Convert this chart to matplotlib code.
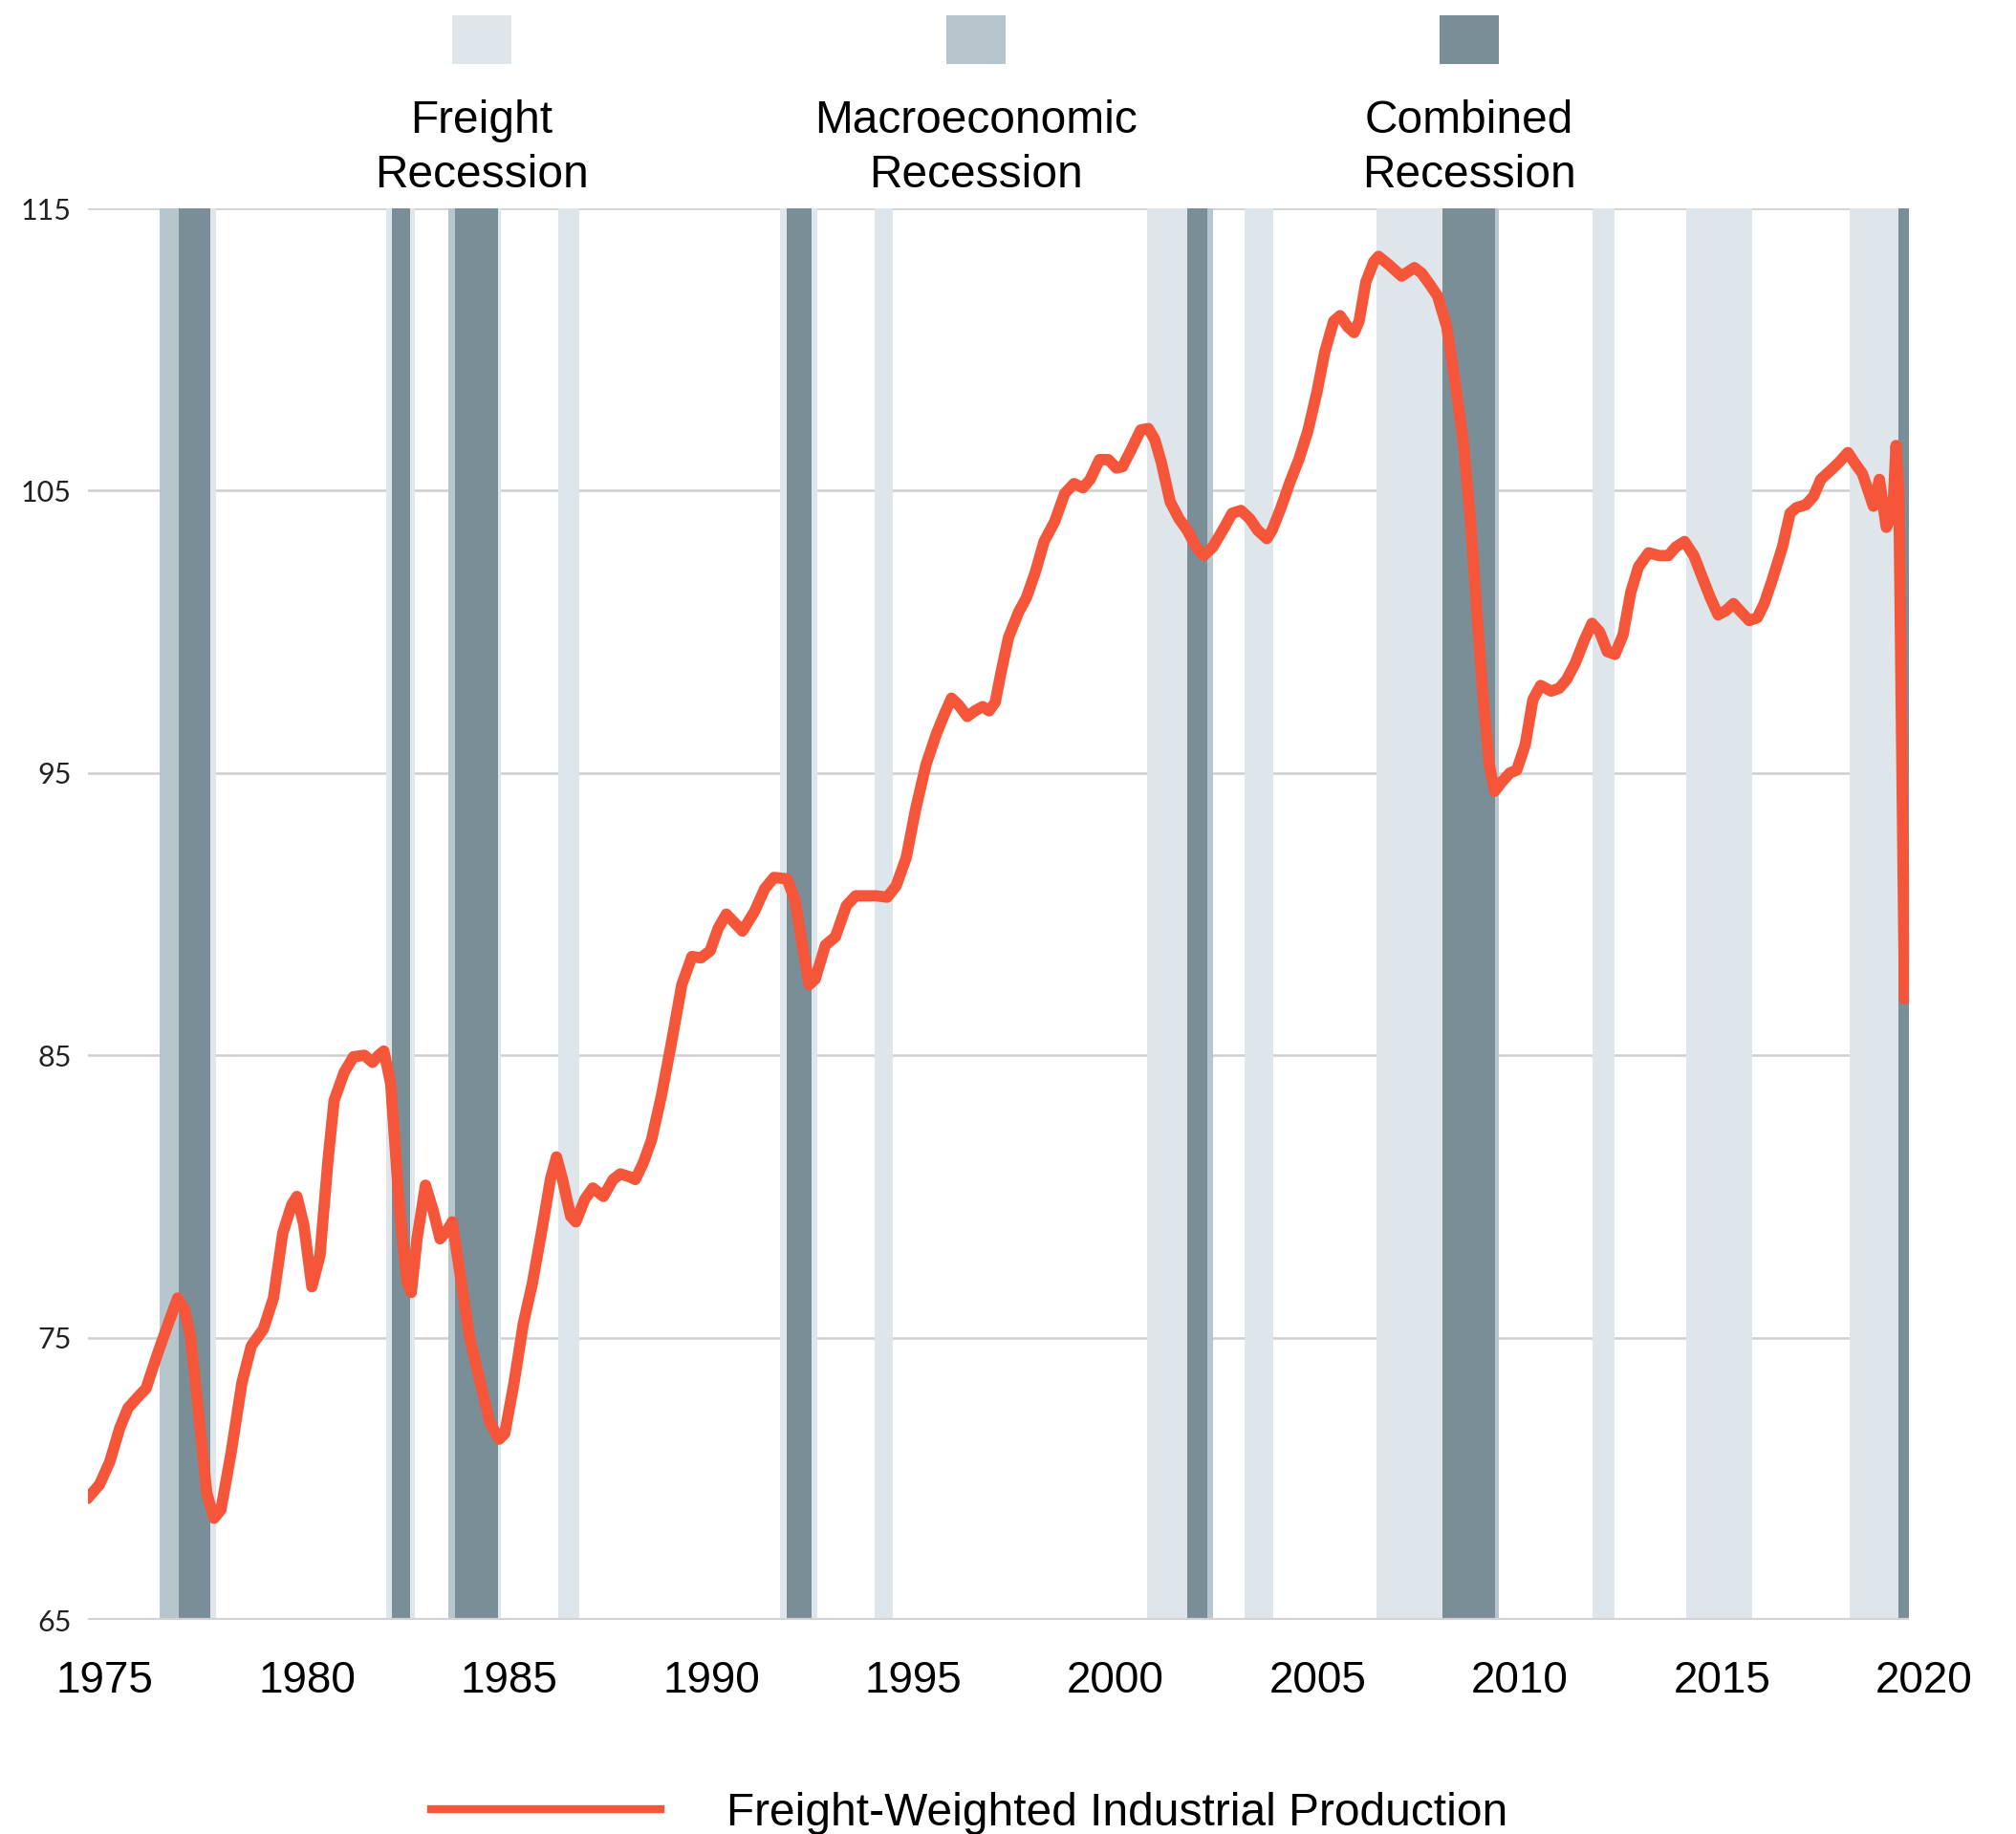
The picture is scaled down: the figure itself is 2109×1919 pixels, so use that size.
import matplotlib
matplotlib.use("Agg")
import matplotlib.pyplot as plt
import matplotlib.transforms as mtransforms
from matplotlib.patches import Rectangle
from matplotlib.lines import Line2D

# ---------------- data ----------------
years = [
    1975.00, 1975.30, 1975.55, 1975.80, 1976.00, 1976.25, 1976.45, 1976.75, 1977.00, 1977.23,
    1977.40, 1977.55, 1977.75, 1977.95, 1978.13, 1978.30, 1978.55, 1978.82, 1979.05, 1979.35,
    1979.60, 1979.83, 1980.05, 1980.18, 1980.35, 1980.55, 1980.75, 1980.95, 1981.10, 1981.35,
    1981.58, 1981.85, 1982.05, 1982.20, 1982.33, 1982.50, 1982.72, 1982.90, 1983.01, 1983.15,
    1983.36, 1983.55, 1983.72, 1983.90, 1984.02, 1984.20, 1984.45, 1984.70, 1984.95, 1985.18,
    1985.32, 1985.55, 1985.78, 1986.00, 1986.25, 1986.45, 1986.60, 1986.75, 1986.95, 1987.08,
    1987.30, 1987.50, 1987.76, 1988.00, 1988.18, 1988.40, 1988.55, 1988.75, 1988.95, 1989.20,
    1989.45, 1989.70, 1989.95, 1990.17, 1990.40, 1990.60, 1990.80, 1991.00, 1991.20, 1991.50,
    1991.75, 1991.98, 1992.30, 1992.50, 1992.68, 1992.85, 1993.00, 1993.25, 1993.50, 1993.77,
    1994.00, 1994.50, 1994.78, 1995.00, 1995.25, 1995.48, 1995.74, 1996.00, 1996.20, 1996.37,
    1996.55, 1996.76, 1996.95, 1997.14, 1997.30, 1997.45, 1997.60, 1997.78, 1998.03, 1998.22,
    1998.44, 1998.66, 1998.92, 1999.17, 1999.40, 1999.62, 1999.80, 2000.03, 2000.25, 2000.45,
    2000.60, 2000.83, 2001.05, 2001.24, 2001.40, 2001.56, 2001.78, 2002.00, 2002.20, 2002.42,
    2002.61, 2002.83, 2003.12, 2003.31, 2003.53, 2003.75, 2003.94, 2004.17, 2004.30, 2004.52,
    2004.74, 2004.96, 2005.18, 2005.41, 2005.60, 2005.82, 2005.98, 2006.17, 2006.33, 2006.45,
    2006.62, 2006.81, 2006.93, 2007.19, 2007.50, 2007.82, 2008.00, 2008.20, 2008.39, 2008.62,
    2008.84, 2009.03, 2009.19, 2009.35, 2009.51, 2009.67, 2009.80, 2009.99, 2010.18, 2010.35,
    2010.56, 2010.75, 2010.94, 2011.20, 2011.40, 2011.58, 2011.80, 2012.02, 2012.21, 2012.40,
    2012.59, 2012.78, 2012.98, 2013.17, 2013.36, 2013.61, 2013.87, 2014.10, 2014.28, 2014.50,
    2014.73, 2014.92, 2015.14, 2015.33, 2015.52, 2015.71, 2015.90, 2016.10, 2016.30, 2016.47,
    2016.66, 2016.92, 2017.11, 2017.27, 2017.50, 2017.69, 2017.87, 2018.10, 2018.32, 2018.54,
    2018.70, 2018.90, 2019.17, 2019.32, 2019.49, 2019.65, 2019.73, 2019.80, 2019.94, 2020.02,
]
values = [
    69.3, 69.8, 70.6, 71.8, 72.5, 72.9, 73.2, 74.5, 75.5, 76.4,
    76.0, 75.0, 72.3, 69.5, 68.6, 68.9, 70.9, 73.4, 74.7, 75.3,
    76.4, 78.7, 79.7, 80.0, 79.0, 76.8, 77.9, 81.3, 83.4, 84.4,
    84.95, 85.0, 84.75, 85.0, 85.15, 84.0, 79.5, 77.0, 76.6, 78.5,
    80.4, 79.5, 78.5, 78.8, 79.1, 77.4, 75.0, 73.5, 72.0, 71.4,
    71.6, 73.4, 75.5, 76.9, 78.9, 80.6, 81.4, 80.6, 79.3, 79.1,
    79.9, 80.3, 80.0, 80.6, 80.8, 80.7, 80.6, 81.2, 82.0, 83.6,
    85.5, 87.5, 88.5, 88.45, 88.7, 89.5, 90.0, 89.7, 89.4, 90.1,
    90.9, 91.3, 91.25, 90.5, 88.9, 87.5, 87.7, 88.9, 89.2, 90.3,
    90.65, 90.65, 90.6, 91.0, 92.0, 93.7, 95.3, 96.4, 97.1, 97.65,
    97.4, 97.0, 97.2, 97.35, 97.2, 97.5, 98.6, 99.8, 100.7, 101.2,
    102.1, 103.2, 103.9, 104.9, 105.25, 105.1, 105.4, 106.1, 106.1, 105.8,
    105.85, 106.5, 107.15, 107.2, 106.8, 106.0, 104.6, 104.0, 103.6, 103.0,
    102.7, 103.0, 103.7, 104.2, 104.3, 104.0, 103.6, 103.3, 103.6, 104.4,
    105.3, 106.1, 107.1, 108.5, 109.9, 111.0, 111.2, 110.8, 110.6, 111.0,
    112.4, 113.1, 113.3, 113.0, 112.6, 112.9, 112.7, 112.3, 111.9, 110.8,
    108.7, 106.7, 104.2, 101.0, 97.8, 95.3, 94.35, 94.7, 95.0, 95.1,
    96.0, 97.6, 98.1, 97.9, 98.0, 98.3, 98.9, 99.7, 100.3, 100.0,
    99.3, 99.2, 99.9, 101.4, 102.3, 102.8, 102.7, 102.7, 103.0, 103.2,
    102.7, 102.0, 101.2, 100.6, 100.75, 101.0, 100.7, 100.4, 100.5, 101.0,
    101.8, 103.0, 104.2, 104.4, 104.5, 104.8, 105.4, 105.7, 106.0, 106.35,
    106.0, 105.6, 104.45, 105.4, 103.7, 104.2, 106.6, 105.0, 87.0, 88.7,
]

freight_start = [1978.03, 1982.38, 1982.99, 1985.15, 1986.64, 1992.13, 1992.91, 1994.47,
                 2001.21, 2003.61, 2006.88, 2012.22, 2014.55, 2018.58]
freight_end = [1978.17, 1982.52, 1983.10, 1985.22, 1987.16, 1992.30, 1993.06, 1994.92,
               2002.21, 2004.32, 2008.51, 2012.77, 2016.17, 2019.80]
macro_start = [1976.79, 1983.92, 2002.69, 2009.82]
macro_end = [1977.25, 1984.08, 2002.84, 2009.90]
combined_start = [1977.25, 1982.52, 1984.08, 1992.30, 2002.21, 2008.51, 2019.80]
combined_end = [1978.03, 1982.99, 1985.15, 1992.91, 2002.69, 2009.82, 2020.05]

x_ticks = [1975, 1980, 1985, 1990, 1995, 2000, 2005, 2010, 2015, 2020]
y_ticks = [65, 75, 85, 95, 105, 115]

legend_labels = ["Freight\nRecession", "Macroeconomic\nRecession", "Combined\nRecession"]
series_label = "Freight-Weighted Industrial Production"

# ---------------- style ----------------
C_LIGHT = "#DEE5EB"
C_MID = "#B7C5CD"
C_DARK = "#7A8E98"
C_LINE = "#F5563A"
C_GRID = "#CFCFCF"

W, H = 2109, 1919
fig = plt.figure(figsize=(W / 100, H / 100), dpi=100)
fig.patch.set_facecolor("white")

ax = fig.add_axes([91.5 / W, 1 - 1695 / H, (1997 - 91.5) / W, (1695 - 218) / H])
ax.set_xlim(1975, 2020.05)
ax.set_ylim(65, 115)

for s, e in zip(freight_start, freight_end):
    ax.axvspan(s, e, color=C_LIGHT, lw=0, zorder=1)
for s, e in zip(macro_start, macro_end):
    ax.axvspan(s, e, color=C_MID, lw=0, zorder=1)
for s, e in zip(combined_start, combined_end):
    ax.axvspan(s, e, color=C_DARK, lw=0, zorder=1)

for yv in y_ticks:
    ax.axhline(yv, color=C_GRID, lw=1.8, zorder=0)
ax.axhline(65, color="#D3D3D3", lw=3, zorder=2)

ax.plot(years, values, color=C_LINE, lw=8.5, solid_joinstyle="round",
        solid_capstyle="round", zorder=3, label=series_label)

for sp in ax.spines.values():
    sp.set_visible(False)

ax.set_yticks(y_ticks)
ax.set_yticklabels([str(v) for v in y_ticks], fontsize=22, family="Lato", color="#222222")
ax.set_xticks(x_ticks)
ax.set_xticklabels([str(v) for v in x_ticks], fontsize=33, family="Liberation Sans", color="black")
ax.tick_params(axis="both", length=0)
ax.tick_params(axis="y", pad=12)
ax.tick_params(axis="x", pad=30)
offset = mtransforms.ScaledTranslation(0.18, 0, fig.dpi_scale_trans)
for lbl in ax.get_xticklabels():
    lbl.set_transform(lbl.get_transform() + offset)

# top legend (swatches above labels)
sw_cx = [504, 1021, 1537]
sw_cols = [C_LIGHT, C_MID, C_DARK]
for cx, col, lab in zip(sw_cx, sw_cols, legend_labels):
    fig.patches.append(Rectangle(((cx - 31) / W, 1 - 67 / H), 62 / W, 51 / H,
                                 transform=fig.transFigure, facecolor=col, edgecolor="none"))
    fig.text(cx / W, 1 - 155 / H, lab, ha="center", va="center", fontsize=34.5,
             family="Liberation Sans", color="black", linespacing=1.33, multialignment="center")

# bottom legend
fig.legend(handles=[Line2D([0], [0], color=C_LINE, lw=6)], labels=[series_label],
           loc="center left", bbox_to_anchor=(451 / W, 1 - 1897 / H), frameon=False,
           prop={"family": "Liberation Sans", "size": 34.5},
           handlelength=5.0, handletextpad=1.45, borderpad=0, borderaxespad=0)

fig.savefig("out.png", dpi=100, facecolor="white")
